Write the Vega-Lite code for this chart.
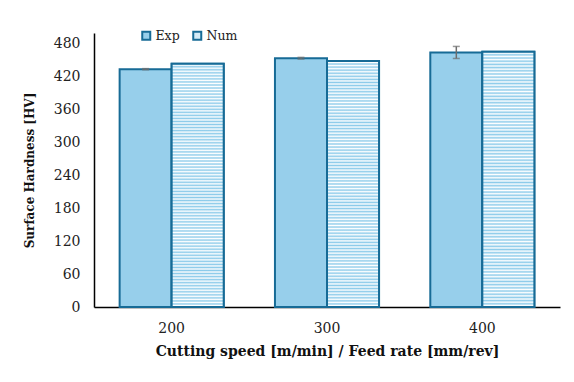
{
 "$schema": "https://vega.github.io/schema/vega-lite/v6.json",
 "width": 466, "height": 274,
 "autosize": {"type": "none"},
 "padding": {"left": 94, "top": 33, "right": 14, "bottom": 75},
 "background": "white",
 "config": {"view": {"stroke": null}, "font": "DejaVu Serif",
  "axisY": {"ticks": false, "grid": false, "labelOverlap": false, "domainColor": "#000", "domainWidth": 1.5, "labelPadding": 14,
   "labelFontSize": 14, "labelColor": "#222", "titleFontSize": 12, "titleFontWeight": "bold", "titlePadding": 17, "titleColor": "#111"}},
 "data": {"values": [
  {"speed": "200", "series": "Exp", "hv": 434, "lo": 433, "hi": 435},
  {"speed": "200", "series": "Num", "hv": 444},
  {"speed": "300", "series": "Exp", "hv": 454, "lo": 452.5, "hi": 455.5},
  {"speed": "300", "series": "Num", "hv": 449},
  {"speed": "400", "series": "Exp", "hv": 464.5, "lo": 453.5, "hi": 475.5},
  {"speed": "400", "series": "Num", "hv": 466}
 ]},
 "encoding": {
  "x": {"field": "speed", "type": "nominal", "scale": {"paddingInner": 0.33, "paddingOuter": 0.165},
   "axis": {"title": "Cutting speed [m/min] / Feed rate [mm/rev]", "labelAngle": 0, "ticks": false, "grid": false,
    "domainColor": "#000", "domainWidth": 1.5, "labelFontSize": 14, "labelColor": "#222", "labelPadding": 14,
    "titleFontSize": 14, "titleFontWeight": "bold", "titlePadding": 9, "titleColor": "#111"}},
  "xOffset": {"field": "series", "type": "nominal", "scale": {"domain": ["Exp", "Num"]}}
 },
 "layer": [
  {"mark": {"type": "bar", "stroke": "#176b96", "strokeWidth": 2},
   "encoding": {
    "y": {"field": "hv", "type": "quantitative", "scale": {"domain": [0, 480]},
     "axis": {"title": "Surface Hardness [HV]", "values": [0, 60, 120, 180, 240, 300, 360, 420, 480]}},
    "fill": {"field": "series", "type": "nominal", "scale": {"domain": ["Exp", "Num"], "range": ["#97cfeb", "#d4ebf7"]},
     "legend": {"orient": "none", "legendX": 46, "legendY": -4, "direction": "horizontal", "title": null, "symbolType": "square",
      "symbolSize": 64, "symbolStrokeColor": "#176b96", "symbolStrokeWidth": 2, "labelFontSize": 12.5, "labelOffset": 3,
      "columnPadding": 9, "labelColor": "#222"}}
   }},
  {"transform": [{"filter": "datum.series === 'Num'"}],
   "mark": {"type": "bar", "stroke": "#176b96", "strokeWidth": 2,
    "fill": {"gradient": "linear", "x1": 0, "y1": 0, "x2": 0, "y2": 1, "stops": [
{"offset":0,"color":"#8ccbea"},{"offset":0.00625,"color":"#ffffff"},{"offset":0.0125,"color":"#8ccbea"},{"offset":0.01875,"color":"#ffffff"},{"offset":0.025,"color":"#8ccbea"},{"offset":0.03125,"color":"#ffffff"},{"offset":0.0375,"color":"#8ccbea"},{"offset":0.04375,"color":"#ffffff"},{"offset":0.05,"color":"#8ccbea"},{"offset":0.05625,"color":"#ffffff"},{"offset":0.0625,"color":"#8ccbea"},{"offset":0.06875,"color":"#ffffff"},{"offset":0.075,"color":"#8ccbea"},{"offset":0.08125,"color":"#ffffff"},{"offset":0.0875,"color":"#8ccbea"},{"offset":0.09375,"color":"#ffffff"},
{"offset":0.1,"color":"#8ccbea"},{"offset":0.10625,"color":"#ffffff"},{"offset":0.1125,"color":"#8ccbea"},{"offset":0.11875,"color":"#ffffff"},{"offset":0.125,"color":"#8ccbea"},{"offset":0.13125,"color":"#ffffff"},{"offset":0.1375,"color":"#8ccbea"},{"offset":0.14375,"color":"#ffffff"},{"offset":0.15,"color":"#8ccbea"},{"offset":0.15625,"color":"#ffffff"},{"offset":0.1625,"color":"#8ccbea"},{"offset":0.16875,"color":"#ffffff"},{"offset":0.175,"color":"#8ccbea"},{"offset":0.18125,"color":"#ffffff"},{"offset":0.1875,"color":"#8ccbea"},{"offset":0.19375,"color":"#ffffff"},
{"offset":0.2,"color":"#8ccbea"},{"offset":0.20625,"color":"#ffffff"},{"offset":0.2125,"color":"#8ccbea"},{"offset":0.21875,"color":"#ffffff"},{"offset":0.225,"color":"#8ccbea"},{"offset":0.23125,"color":"#ffffff"},{"offset":0.2375,"color":"#8ccbea"},{"offset":0.24375,"color":"#ffffff"},{"offset":0.25,"color":"#8ccbea"},{"offset":0.25625,"color":"#ffffff"},{"offset":0.2625,"color":"#8ccbea"},{"offset":0.26875,"color":"#ffffff"},{"offset":0.275,"color":"#8ccbea"},{"offset":0.28125,"color":"#ffffff"},{"offset":0.2875,"color":"#8ccbea"},{"offset":0.29375,"color":"#ffffff"},
{"offset":0.3,"color":"#8ccbea"},{"offset":0.30625,"color":"#ffffff"},{"offset":0.3125,"color":"#8ccbea"},{"offset":0.31875,"color":"#ffffff"},{"offset":0.325,"color":"#8ccbea"},{"offset":0.33125,"color":"#ffffff"},{"offset":0.3375,"color":"#8ccbea"},{"offset":0.34375,"color":"#ffffff"},{"offset":0.35,"color":"#8ccbea"},{"offset":0.35625,"color":"#ffffff"},{"offset":0.3625,"color":"#8ccbea"},{"offset":0.36875,"color":"#ffffff"},{"offset":0.375,"color":"#8ccbea"},{"offset":0.38125,"color":"#ffffff"},{"offset":0.3875,"color":"#8ccbea"},{"offset":0.39375,"color":"#ffffff"},
{"offset":0.4,"color":"#8ccbea"},{"offset":0.40625,"color":"#ffffff"},{"offset":0.4125,"color":"#8ccbea"},{"offset":0.41875,"color":"#ffffff"},{"offset":0.425,"color":"#8ccbea"},{"offset":0.43125,"color":"#ffffff"},{"offset":0.4375,"color":"#8ccbea"},{"offset":0.44375,"color":"#ffffff"},{"offset":0.45,"color":"#8ccbea"},{"offset":0.45625,"color":"#ffffff"},{"offset":0.4625,"color":"#8ccbea"},{"offset":0.46875,"color":"#ffffff"},{"offset":0.475,"color":"#8ccbea"},{"offset":0.48125,"color":"#ffffff"},{"offset":0.4875,"color":"#8ccbea"},{"offset":0.49375,"color":"#ffffff"},
{"offset":0.5,"color":"#8ccbea"},{"offset":0.50625,"color":"#ffffff"},{"offset":0.5125,"color":"#8ccbea"},{"offset":0.51875,"color":"#ffffff"},{"offset":0.525,"color":"#8ccbea"},{"offset":0.53125,"color":"#ffffff"},{"offset":0.5375,"color":"#8ccbea"},{"offset":0.54375,"color":"#ffffff"},{"offset":0.55,"color":"#8ccbea"},{"offset":0.55625,"color":"#ffffff"},{"offset":0.5625,"color":"#8ccbea"},{"offset":0.56875,"color":"#ffffff"},{"offset":0.575,"color":"#8ccbea"},{"offset":0.58125,"color":"#ffffff"},{"offset":0.5875,"color":"#8ccbea"},{"offset":0.59375,"color":"#ffffff"},
{"offset":0.6,"color":"#8ccbea"},{"offset":0.60625,"color":"#ffffff"},{"offset":0.6125,"color":"#8ccbea"},{"offset":0.61875,"color":"#ffffff"},{"offset":0.625,"color":"#8ccbea"},{"offset":0.63125,"color":"#ffffff"},{"offset":0.6375,"color":"#8ccbea"},{"offset":0.64375,"color":"#ffffff"},{"offset":0.65,"color":"#8ccbea"},{"offset":0.65625,"color":"#ffffff"},{"offset":0.6625,"color":"#8ccbea"},{"offset":0.66875,"color":"#ffffff"},{"offset":0.675,"color":"#8ccbea"},{"offset":0.68125,"color":"#ffffff"},{"offset":0.6875,"color":"#8ccbea"},{"offset":0.69375,"color":"#ffffff"},
{"offset":0.7,"color":"#8ccbea"},{"offset":0.70625,"color":"#ffffff"},{"offset":0.7125,"color":"#8ccbea"},{"offset":0.71875,"color":"#ffffff"},{"offset":0.725,"color":"#8ccbea"},{"offset":0.73125,"color":"#ffffff"},{"offset":0.7375,"color":"#8ccbea"},{"offset":0.74375,"color":"#ffffff"},{"offset":0.75,"color":"#8ccbea"},{"offset":0.75625,"color":"#ffffff"},{"offset":0.7625,"color":"#8ccbea"},{"offset":0.76875,"color":"#ffffff"},{"offset":0.775,"color":"#8ccbea"},{"offset":0.78125,"color":"#ffffff"},{"offset":0.7875,"color":"#8ccbea"},{"offset":0.79375,"color":"#ffffff"},
{"offset":0.8,"color":"#8ccbea"},{"offset":0.80625,"color":"#ffffff"},{"offset":0.8125,"color":"#8ccbea"},{"offset":0.81875,"color":"#ffffff"},{"offset":0.825,"color":"#8ccbea"},{"offset":0.83125,"color":"#ffffff"},{"offset":0.8375,"color":"#8ccbea"},{"offset":0.84375,"color":"#ffffff"},{"offset":0.85,"color":"#8ccbea"},{"offset":0.85625,"color":"#ffffff"},{"offset":0.8625,"color":"#8ccbea"},{"offset":0.86875,"color":"#ffffff"},{"offset":0.875,"color":"#8ccbea"},{"offset":0.88125,"color":"#ffffff"},{"offset":0.8875,"color":"#8ccbea"},{"offset":0.89375,"color":"#ffffff"},
{"offset":0.9,"color":"#8ccbea"},{"offset":0.90625,"color":"#ffffff"},{"offset":0.9125,"color":"#8ccbea"},{"offset":0.91875,"color":"#ffffff"},{"offset":0.925,"color":"#8ccbea"},{"offset":0.93125,"color":"#ffffff"},{"offset":0.9375,"color":"#8ccbea"},{"offset":0.94375,"color":"#ffffff"},{"offset":0.95,"color":"#8ccbea"},{"offset":0.95625,"color":"#ffffff"},{"offset":0.9625,"color":"#8ccbea"},{"offset":0.96875,"color":"#ffffff"},{"offset":0.975,"color":"#8ccbea"},{"offset":0.98125,"color":"#ffffff"},{"offset":0.9875,"color":"#8ccbea"},{"offset":0.99375,"color":"#ffffff"},
{"offset":1,"color":"#8ccbea"}
    ]}},
   "encoding": {"y": {"field": "hv", "type": "quantitative", "axis": {"title": "Surface Hardness [HV]", "values": [0, 60, 120, 180, 240, 300, 360, 420, 480]}}}},
  {"transform": [{"filter": "datum.series === 'Exp'"}],
   "mark": {"type": "rule", "color": "#6d6d6d", "strokeWidth": 1.5},
   "encoding": {"y": {"field": "lo", "type": "quantitative", "axis": {"title": "Surface Hardness [HV]", "values": [0, 60, 120, 180, 240, 300, 360, 420, 480]}}, "y2": {"field": "hi"}}},
  {"transform": [{"filter": "datum.series === 'Exp'"}],
   "mark": {"type": "tick", "color": "#6d6d6d", "thickness": 1.5, "size": 7, "orient": "horizontal"},
   "encoding": {"y": {"field": "lo", "type": "quantitative", "axis": {"title": "Surface Hardness [HV]", "values": [0, 60, 120, 180, 240, 300, 360, 420, 480]}}}},
  {"transform": [{"filter": "datum.series === 'Exp'"}],
   "mark": {"type": "tick", "color": "#6d6d6d", "thickness": 1.5, "size": 7, "orient": "horizontal"},
   "encoding": {"y": {"field": "hi", "type": "quantitative", "axis": {"title": "Surface Hardness [HV]", "values": [0, 60, 120, 180, 240, 300, 360, 420, 480]}}}}
 ]
}
